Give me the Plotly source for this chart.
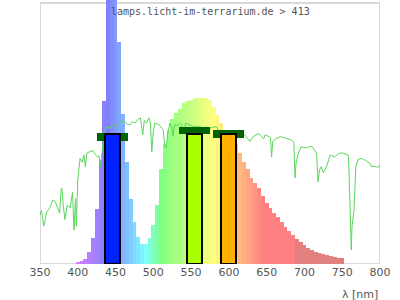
import plotly.graph_objects as go

# ---- data ----
spec_nm = list(range(395, 755, 5))
spec_val = [0.0, 0.01, 0.02, 0.04, 0.09, 0.2, 0.42, 0.8, 1.25, 2.3,
            3.0, 3.0, 1.7, 1.15, 0.78, 0.5, 0.32, 0.21, 0.155, 0.15,
            0.2, 0.3, 0.45, 0.73, 0.92, 1.03, 1.11, 1.16, 1.19, 1.23,
            1.25, 1.26, 1.27, 1.275, 1.275, 1.27, 1.255, 1.2, 1.14, 1.08,
            1.02, 0.98, 0.95, 0.92, 0.85, 0.78, 0.73, 0.66, 0.62, 0.58,
            0.52, 0.47, 0.43, 0.39, 0.36, 0.32, 0.28, 0.25, 0.22, 0.195,
            0.17, 0.145, 0.125, 0.11, 0.095, 0.085, 0.076, 0.068, 0.06, 0.053,
            0.048, 0.044]

sun_nm = [350, 352, 355, 359, 363, 367, 370, 373, 376, 378, 379, 381, 383, 386, 390, 393, 395, 397, 398,
          400, 402, 403, 406, 408, 410, 412, 416, 420, 423, 426, 428, 430, 432, 435, 438, 442, 446, 450,
          454, 458, 462, 466, 469, 472, 476, 480, 483, 486, 488, 491, 494, 496, 498, 500, 502, 505, 508,
          511, 513, 515, 517, 519, 522, 524, 526, 528, 531, 535, 538, 540, 543, 546, 550, 555, 560, 565,
          570, 575, 580, 584, 588, 589, 591, 595, 600, 605, 610, 615, 621, 625, 628, 632, 636, 639, 643,
          646, 648, 652, 655, 656.5, 658, 662, 668, 672, 677, 683, 686, 687.5, 689, 692, 696, 700, 703,
          707, 710, 714, 716, 718, 720, 722, 725, 727, 730, 734, 737, 740, 744, 747, 751, 754, 758, 759,
          760, 761, 762, 763, 765.5, 767, 768, 771, 775, 778, 781, 784.5, 787, 789, 792, 795.6, 798, 800]
sun_val = [0.375, 0.41, 0.29, 0.40, 0.43, 0.49, 0.48, 0.44, 0.39, 0.57, 0.58, 0.44, 0.34, 0.45, 0.43, 0.55, 0.26, 0.50, 0.29,
           0.64, 0.75, 0.81, 0.78, 0.835, 0.745, 0.85, 0.86, 0.87, 0.84, 0.82, 0.83, 0.75, 0.85, 1.0, 1.05, 1.04, 1.07, 1.05,
           1.08, 1.10, 1.09, 1.07, 1.065, 1.09, 1.08, 1.11, 1.12, 0.99, 1.10, 1.08, 1.12, 1.09, 0.86, 1.02, 1.08, 1.07, 1.065,
           1.04, 1.03, 0.91, 0.89, 1.0, 1.08, 1.05, 0.98, 1.07, 1.06, 1.08, 1.06, 1.0, 1.08, 1.07, 1.06, 1.05, 1.06, 1.04,
           1.05, 1.04, 1.05, 1.05, 1.0, 0.98, 1.02, 1.0, 1.01, 1.0, 0.99, 0.97, 0.99, 0.96, 0.94, 0.975, 0.99, 1.0, 0.98,
           0.96, 0.99, 0.975, 0.97, 0.82, 0.94, 0.96, 0.975, 0.97, 0.96, 0.95, 0.93, 0.66, 0.78, 0.85, 0.90, 0.89, 0.89,
           0.90, 0.90, 0.87, 0.85, 0.63, 0.72, 0.745, 0.70, 0.72, 0.76, 0.835, 0.83, 0.82, 0.84, 0.85, 0.85, 0.845, 0.835, 0.7,
           0.49, 0.145, 0.107, 0.29, 0.41, 0.6, 0.745, 0.80, 0.81, 0.80, 0.795, 0.78, 0.77, 0.745, 0.75, 0.745, 0.74, 0.76]

band_nm = [446, 555, 599]
band_val = [1.0, 1.0, 1.0]
band_colors = ["#0022ff", "#aaff00", "#ffb000"]
cap_val = [0.973, 1.024, 0.996]
cap_thick = 0.056
cap_width = [42, 41, 41]

x_ticks = [350, 400, 450, 500, 550, 600, 650, 700, 750, 800]
title_text = "lamps.licht-im-terrarium.de > 413"
x_label = "λ [nm]"

Y_TOP = 2.0            # value at the top frame line
Y_MAX = 264 / 130.5    # value at the top of the figure (plot area extends to the very top)


def wl_color(w):
    if w >= 690:
        return "rgb(226,128,128)"
    if w < 440:
        r, g, b = max(0.0, (440 - w) / 60), 0.0, 1.0
    elif w < 490:
        r, g, b = 0.0, (w - 440) / 50, 1.0
    elif w < 510:
        r, g, b = 0.0, 1.0, (510 - w) / 20
    elif w < 580:
        r, g, b = (w - 510) / 70, 1.0, 0.0
    elif w < 645:
        r, g, b = 1.0, (645 - w) / 65, 0.0
    else:
        r, g, b = 1.0, 0.0, 0.0
    f = lambda c: int(round(127.5 + 127.5 * min(1.0, c)))
    return f"rgb({f(r)},{f(g)},{f(b)})"


fig = go.Figure()

fig.add_trace(go.Bar(
    x=spec_nm, y=spec_val, width=5,
    marker=dict(color=[wl_color(w) for w in spec_nm], line=dict(width=0)),
    showlegend=False, hoverinfo="skip",
))

fig.add_trace(go.Scatter(
    x=sun_nm, y=sun_val, mode="lines",
    line=dict(color="#5cd65c", width=1),
    showlegend=False, hoverinfo="skip",
))

fig.add_trace(go.Bar(
    x=band_nm, y=[cap_thick] * 3, base=[c - cap_thick / 2 for c in cap_val],
    width=cap_width, marker=dict(color="#006400", line=dict(width=0)),
    xaxis="x2", yaxis="y2", showlegend=False, hoverinfo="skip",
))

fig.add_trace(go.Bar(
    x=band_nm, y=band_val, width=20,
    marker=dict(color=band_colors, line=dict(color="black", width=2)),
    xaxis="x2", yaxis="y2", showlegend=False, hoverinfo="skip",
))

fig.update_layout(
    width=400, height=300,
    margin=dict(l=40, r=20, t=0, b=36),
    paper_bgcolor="white", plot_bgcolor="white",
    barmode="overlay", bargap=0,
    xaxis=dict(range=[350, 800], tickvals=x_ticks, showgrid=False, zeroline=False,
               showline=False, ticks="",
               tickfont=dict(family="DejaVu Sans", size=11, color="#555555")),
    yaxis=dict(range=[0, Y_MAX], showgrid=False, zeroline=False, showticklabels=False,
               showline=False, ticks=""),
    xaxis2=dict(overlaying="x", matches="x", visible=False),
    yaxis2=dict(overlaying="y", range=[0, Y_MAX], visible=False),
    shapes=[dict(type="rect", xref="x", yref="y", x0=350, x1=800, y0=0, y1=Y_TOP,
                 line=dict(color="#d9d9d9", width=2), layer="below")],
    annotations=[
        dict(text=title_text, x=0.5, xref="paper", y=1 - 12 / 264, yref="paper", yanchor="middle",
             showarrow=False, font=dict(family="DejaVu Sans Mono", size=10, color="#555555")),
        dict(text=x_label, x=1, xref="paper", xanchor="right", y=-30 / 264, yref="paper",
             yanchor="middle", showarrow=False,
             font=dict(family="DejaVu Sans", size=11, color="#555555")),
    ],
)

fig.write_html("out.html")
